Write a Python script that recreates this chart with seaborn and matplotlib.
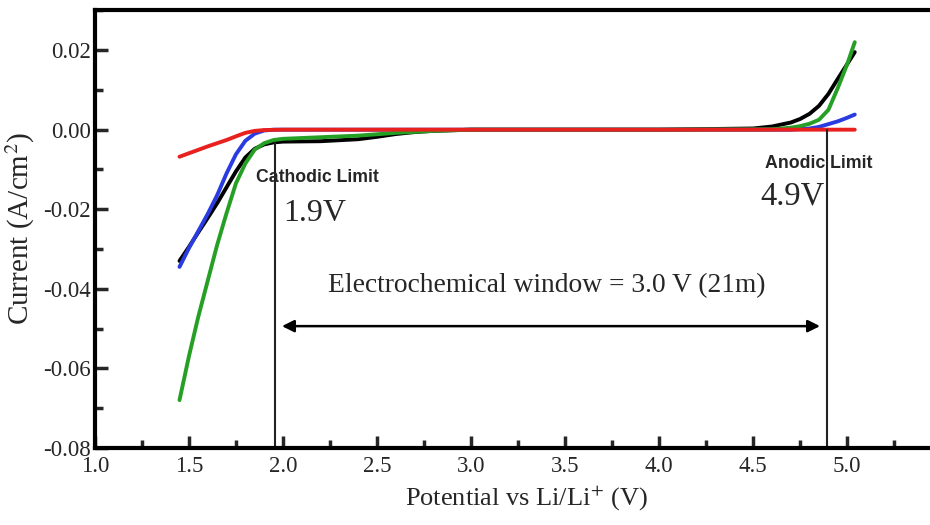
import matplotlib
matplotlib.use("Agg")
import matplotlib.pyplot as plt
import seaborn as sns
from matplotlib.ticker import MultipleLocator

sns.set_style("white")
plt.rcParams['font.family'] = ['Liberation Serif', 'DejaVu Serif']
plt.rcParams['mathtext.fontset'] = 'stix'

# ---- data ----
x_black = [1.45, 1.50, 1.55, 1.60, 1.65, 1.70, 1.75, 1.80, 1.85, 1.90, 1.95, 2.0, 2.2, 2.4, 2.5, 2.6, 2.7, 2.8, 3.0,
           4.0, 4.5, 4.6, 4.7, 4.75, 4.8, 4.85, 4.9, 4.95, 5.0, 5.04]
y_black = [-0.033, -0.0295, -0.0258, -0.0222, -0.0185, -0.0145, -0.0105, -0.0070, -0.0048, -0.0037, -0.0032, -0.0030,
           -0.0029, -0.0024, -0.0018, -0.0011, -0.0006, -0.0003, 0.0,
           0.0, 0.0003, 0.0008, 0.0018, 0.0027, 0.0040, 0.0060, 0.0090, 0.0128, 0.0165, 0.0195]

x_blue = [1.45, 1.50, 1.55, 1.60, 1.65, 1.70, 1.75, 1.80, 1.85, 1.90, 1.95, 4.7, 4.8, 4.85, 4.9, 4.95, 5.0, 5.04]
y_blue = [-0.0345, -0.0298, -0.0255, -0.0212, -0.0165, -0.0110, -0.0062, -0.0028, -0.0010, -0.0002, 0.0,
          0.0, 0.0003, 0.0007, 0.0014, 0.0021, 0.0030, 0.0038]

x_green = [1.45, 1.50, 1.55, 1.60, 1.65, 1.70, 1.75, 1.80, 1.85, 1.90, 1.95, 2.0, 2.2, 2.4, 2.6, 2.8, 3.0,
           4.0, 4.6, 4.7, 4.75, 4.8, 4.85, 4.9, 4.95, 5.0, 5.04]
y_green = [-0.068, -0.057, -0.047, -0.038, -0.029, -0.021, -0.0135, -0.0085, -0.0050, -0.0034, -0.0026, -0.0023,
           -0.0019, -0.0015, -0.0008, -0.0003, 0.0,
           0.0, 0.0001, 0.0005, 0.0009, 0.0015, 0.0025, 0.0050, 0.0105, 0.0165, 0.022]

x_red = [1.45, 1.60, 1.70, 1.76, 1.80, 1.85, 1.90, 2.0, 3.0, 4.0, 5.04]
y_red = [-0.0068, -0.0042, -0.0026, -0.0015, -0.0008, -0.0003, -0.0001, 0.0, 0.0, 0.0, 0.0]

cathodic_limit = 1.96
anodic_limit = 4.89
x_ticks = [1.0, 1.5, 2.0, 2.5, 3.0, 3.5, 4.0, 4.5, 5.0]
y_ticks = [-0.08, -0.06, -0.04, -0.02, 0.00, 0.02]

fig = plt.figure(figsize=(9.3, 5.25), dpi=100)
ax = fig.add_axes([0.102, 0.147, 0.898, 0.834])

for xs, ys, c in [(x_black, y_black, 'black'), (x_blue, y_blue, '#2a3be0'),
                  (x_green, y_green, '#25a025'), (x_red, y_red, '#e8201e')]:
    sns.lineplot(x=xs, y=ys, color=c, lw=2.8, ax=ax, sort=False, estimator=None)

ax.set_xlim(1.0, 5.44)
ax.set_ylim(-0.08, 0.0301)

ax.set_xticks(x_ticks)
ax.set_xticklabels([f"{v:.1f}" for v in x_ticks])
ax.set_yticks(y_ticks)
ax.set_yticklabels([f"{v:.2f}" for v in y_ticks])
ax.xaxis.set_minor_locator(MultipleLocator(0.25))
ax.yaxis.set_minor_locator(MultipleLocator(0.01))
ax.tick_params(which='both', bottom=True, left=True, top=False, right=False)
ax.tick_params(which='major', direction='in', length=9, width=2.5, labelsize=16.5)
ax.tick_params(which='minor', direction='in', length=6, width=2.5)
ax.tick_params(axis='y', which='major', pad=3)
ax.tick_params(axis='x', which='major', pad=6)

for s in ['left', 'bottom', 'top']:
    ax.spines[s].set_linewidth(3)
    ax.spines[s].set_color('black')
ax.spines['right'].set_visible(False)

ax.set_xlabel(r"Potential vs Li/Li$^{+}$ (V)", fontsize=19, labelpad=4, x=0.517)
ax.set_ylabel(r"Current (A/cm$^{2}$)", fontsize=21, labelpad=4)

# limit lines
ax.plot([cathodic_limit, cathodic_limit], [-0.08, -0.0033], color='#222222', lw=1.5)
ax.plot([anodic_limit, anodic_limit], [-0.08, 0.0], color='#222222', lw=1.5)

ax.annotate('', xy=(cathodic_limit + 0.02, -0.0494), xytext=(anodic_limit - 0.02, -0.0494),
            arrowprops=dict(arrowstyle='<|-|>', color='black', lw=1.8, mutation_scale=18))
ax.text(3.40, -0.0392, "Electrochemical window = 3.0 V (21m)", fontsize=19.8,
        ha='center', va='center')

ax.text(1.855, -0.0119, "Cathodic Limit", fontsize=12.7, fontweight='bold',
        family=['Liberation Sans', 'DejaVu Sans'], ha='left', va='center')
ax.text(2.0, -0.0212, "1.9V", fontsize=23, ha='left', va='center')
ax.text(4.564, -0.0084, "Anodic Limit", fontsize=12.8, fontweight='bold',
        family=['Liberation Sans', 'DejaVu Sans'], ha='left', va='center')
ax.text(4.537, -0.0168, "4.9V", fontsize=23.5, ha='left', va='center')

fig.savefig("out.png", dpi=100)
